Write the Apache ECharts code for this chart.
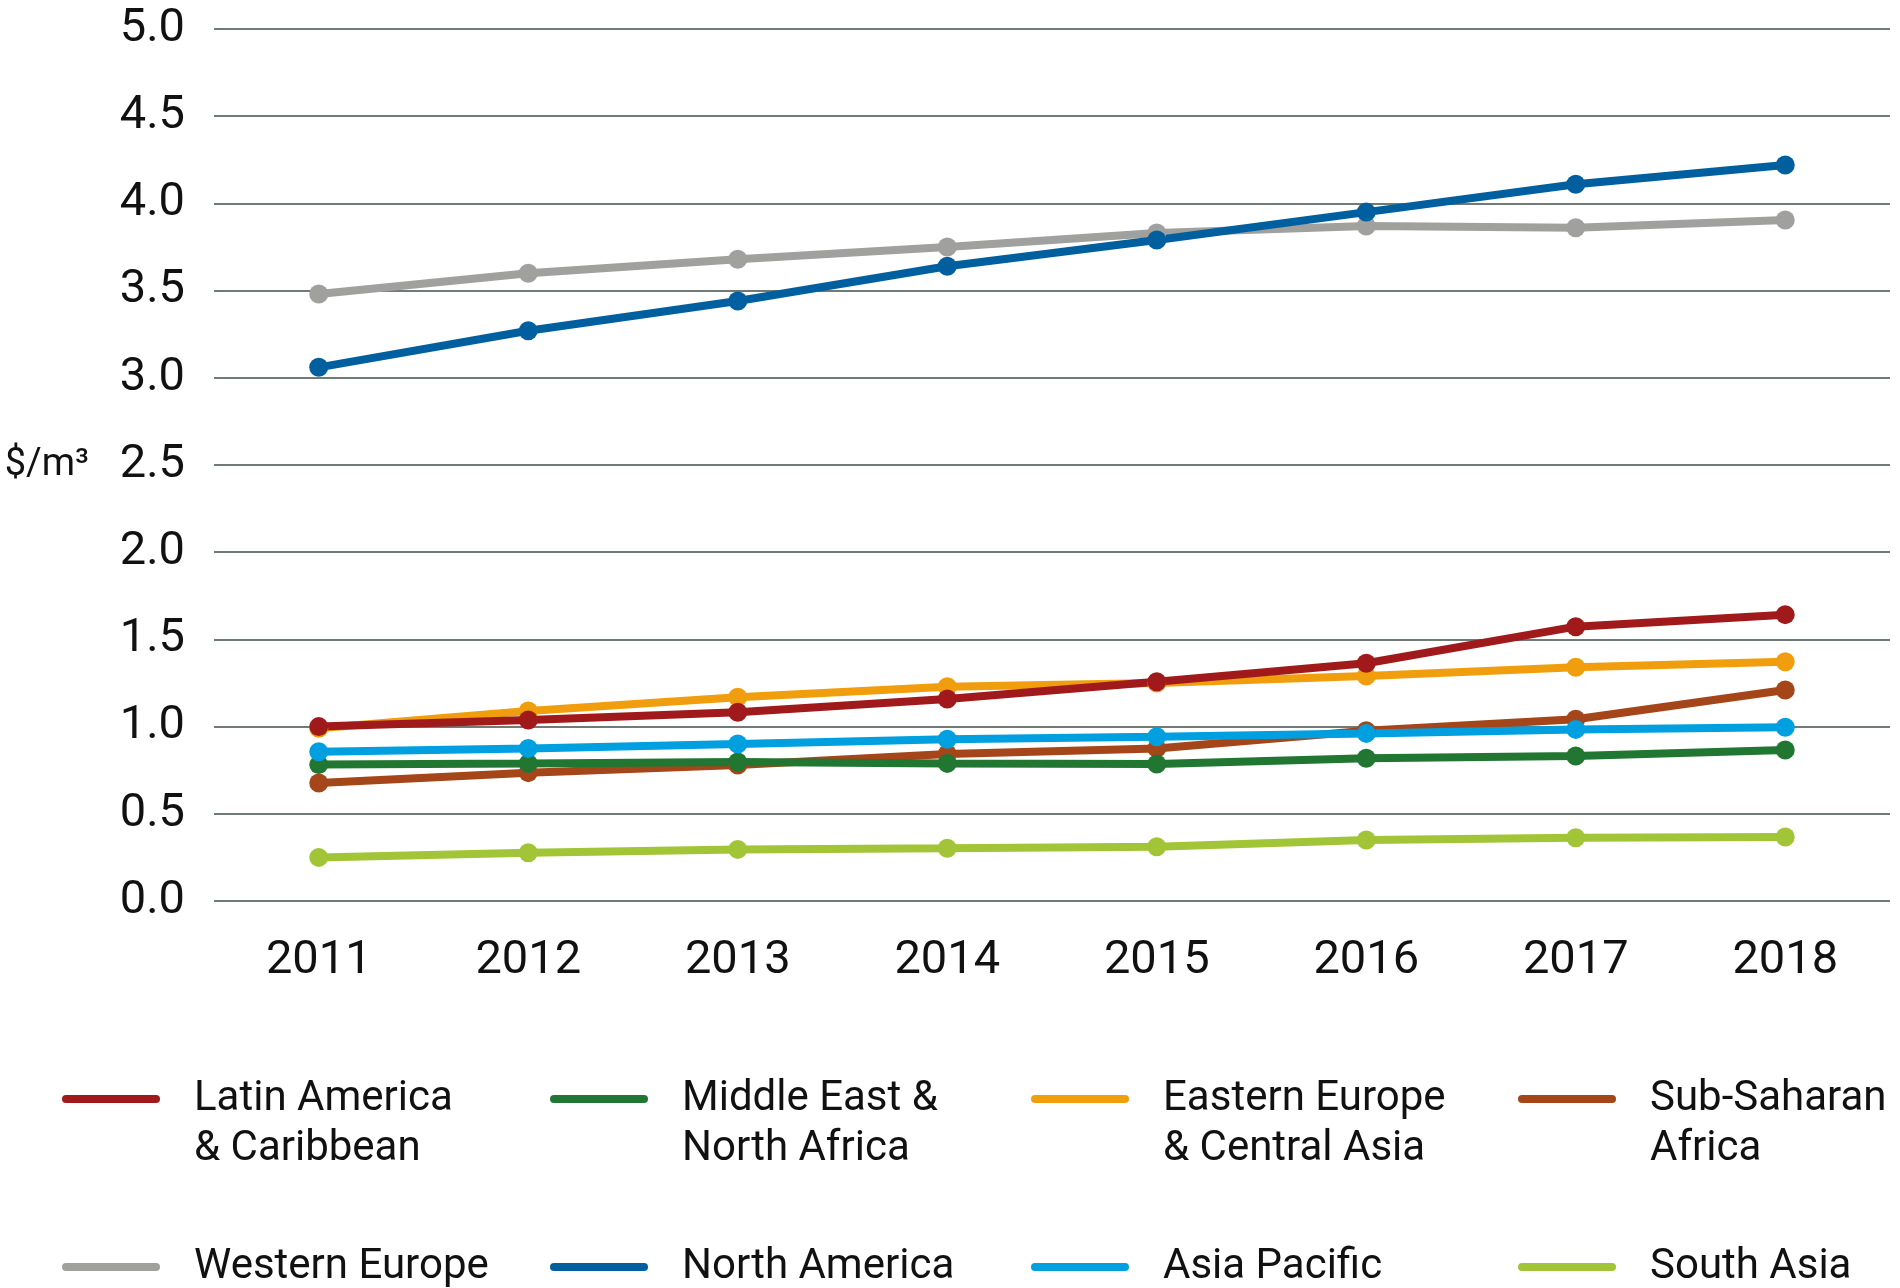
<!DOCTYPE html>
<html>
<head>
<meta charset="utf-8">
<script src="https://cdn.jsdelivr.net/npm/echarts@6/dist/echarts.min.js"></script>
<style>
html,body{margin:0;padding:0;background:#fff;}
#chart{width:1900px;height:1288px;}
</style>
</head>
<body>
<div id="chart"></div>
<script>
const years = ['2011','2012','2013','2014','2015','2016','2017','2018'];
const yTicks = [0, 0.5, 1, 1.5, 2, 2.5, 3, 3.5, 4, 4.5, 5];
const unitLabel = '$/m³';

const westernEurope = [3.48, 3.60, 3.68, 3.75, 3.83, 3.87, 3.86, 3.905];
const northAmerica  = [3.06, 3.27, 3.44, 3.64, 3.79, 3.95, 4.11, 4.22];
const easternEurope = [0.99, 1.09, 1.168, 1.229, 1.25, 1.29, 1.34, 1.372];
const latinAmerica  = [1.00, 1.038, 1.082, 1.158, 1.257, 1.363, 1.573, 1.642];
const subSaharan    = [0.677, 0.736, 0.78, 0.843, 0.875, 0.976, 1.042, 1.21];
const middleEast    = [0.782, 0.789, 0.797, 0.789, 0.786, 0.818, 0.831, 0.866];
const asiaPacific   = [0.856, 0.875, 0.90, 0.927, 0.942, 0.961, 0.984, 0.996];
const southAsia     = [0.25, 0.277, 0.296, 0.302, 0.311, 0.35, 0.363, 0.367];

const seriesDefs = [
  {name: 'Western Europe', data: westernEurope, color: '#A0A09F'},
  {name: 'North America', data: northAmerica, color: '#00609F'},
  {name: 'Eastern Europe\n& Central Asia', data: easternEurope, color: '#F09E0E'},
  {name: 'Latin America\n& Caribbean', data: latinAmerica, color: '#A11A1B'},
  {name: 'Sub-Saharan\nAfrica', data: subSaharan, color: '#A44619'},
  {name: 'Middle East &\nNorth Africa', data: middleEast, color: '#217632'},
  {name: 'Asia Pacific', data: asiaPacific, color: '#009FE0'},
  {name: 'South Asia', data: southAsia, color: '#A1C536'}
];

const legendLayout = [
  {name: 'Latin America\n& Caribbean', left: 62, row: 0},
  {name: 'Middle East &\nNorth Africa', left: 550, row: 0},
  {name: 'Eastern Europe\n& Central Asia', left: 1031, row: 0},
  {name: 'Sub-Saharan\nAfrica', left: 1518, row: 0},
  {name: 'Western Europe', left: 62, row: 1},
  {name: 'North America', left: 550, row: 1},
  {name: 'Asia Pacific', left: 1031, row: 1},
  {name: 'South Asia', left: 1518, row: 1}
];

const FONT = 'Roboto';
const LH = 50;
const iconPath = 'path://M4,0L94,0A4,4,0,0,1,94,8L4,8A4,4,0,0,1,4,0Z';

const legends = legendLayout.map(l => {
  const twoLine = l.row === 0;
  const iconCenter = twoLine ? 1099 : 1267;
  return {
    left: l.left,
    top: twoLine ? iconCenter - 75 : iconCenter - 25,
    padding: 0,
    orient: 'horizontal',
    selectedMode: false,
    itemWidth: 98,
    itemHeight: 8,
    data: [{name: l.name, icon: iconPath}],
    formatter: twoLine ? (name => ' \n' + name) : (name => name),
    textStyle: {
      fontFamily: FONT,
      fontSize: 42,
      color: '#111',
      lineHeight: LH,
      padding: [0, 0, 0, 29]
    }
  };
});

const chart = echarts.init(document.getElementById('chart'), null, {renderer: 'canvas'});
chart.setOption({
  animation: false,
  backgroundColor: '#fff',
  grid: {left: 214, right: 10, top: 29, bottom: 387, containLabel: false},
  legend: legends,
  xAxis: {
    type: 'category',
    data: years,
    boundaryGap: true,
    axisLine: {show: false},
    axisTick: {show: false},
    axisLabel: {fontFamily: FONT, fontSize: 47, color: '#111', margin: 37}
  },
  yAxis: {
    type: 'value',
    min: yTicks[0],
    max: yTicks[yTicks.length - 1],
    interval: 0.5,
    name: unitLabel,
    nameLocation: 'middle',
    nameRotate: 0,
    nameGap: 125,
    nameTextStyle: {fontFamily: FONT, fontSize: 38, color: '#111', align: 'right', verticalAlign: 'middle'},
    axisLine: {show: false},
    axisTick: {show: false},
    axisLabel: {fontFamily: FONT, fontSize: 47, color: '#111', margin: 29, formatter: v => v.toFixed(1)},
    splitLine: {show: true, lineStyle: {color: '#6F7B74', width: 2}}
  },
  series: seriesDefs.map(s => ({
    name: s.name,
    type: 'line',
    data: s.data,
    symbol: 'circle',
    symbolSize: 19,
    showSymbol: true,
    lineStyle: {width: 8, color: s.color},
    itemStyle: {color: s.color},
    emphasis: {disabled: true}
  }))
});
</script>
</body>
</html>
